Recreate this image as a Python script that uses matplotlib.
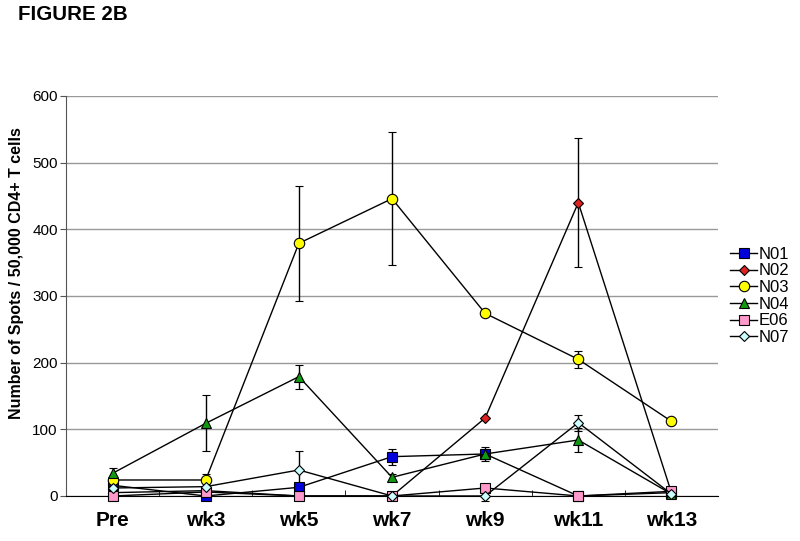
import numpy as np
import matplotlib.pyplot as plt
from matplotlib.ticker import MultipleLocator
from matplotlib.lines import Line2D

plt.rcParams['font.family'] = ['Liberation Sans', 'DejaVu Sans']

weeks = ["Pre", "wk3", "wk5", "wk7", "wk9", "wk11", "wk13"]

n01 = [16, 0, 13, 59, 63, 0, 5]
n01_err = [0, 0, 0, 12, 10, 0, 0]
n02 = [5, 8, 0, 0, 117, 440, 5]
n02_err = [0, 0, 0, 0, 0, 97, 0]
n03 = [24, 24, 379, 446, 274, 205, 112]
n03_err = [0, 9, 86, 100, 0, 13, 0]
n04 = [34, 109, 179, 28, 63, 84, 3]
n04_err = [8, 42, 18, 5, 0, 18, 0]
e06 = [0, 6, 0, 0, 12, 0, 7]
e06_err = [0, 0, 0, 0, 4, 0, 0]
n07 = [12, 14, 39, 0, 0, 110, 3]
n07_err = [0, 0, 28, 0, 8, 12, 0]

series = [
    ("N01", n01, n01_err, "s", "#0000dd", 7),
    ("N02", n02, n02_err, "D", "#dd2222", 5),
    ("N03", n03, n03_err, "o", "#ffff00", 7.5),
    ("N04", n04, n04_err, "^", "#119911", 7),
    ("E06", e06, e06_err, "s", "#ff99cc", 7.5),
    ("N07", n07, n07_err, "D", "#ccffff", 5.5),
]

fig = plt.figure(figsize=(8, 5.41), dpi=100)
ax = fig.add_axes([0.0825, 0.0832, 0.815, 0.7394])

x = np.arange(len(weeks))
handles = []
for name, vals, err, mk, col, ms in series:
    ax.errorbar(x, vals, yerr=err, color="black", lw=1, elinewidth=1,
                capsize=3, capthick=1, marker=mk, markersize=ms,
                markerfacecolor=col, markeredgecolor="black",
                markeredgewidth=0.8, clip_on=False, zorder=3)
    handles.append(Line2D([], [], color="black", lw=1, marker=mk,
                          markersize=ms, markerfacecolor=col,
                          markeredgecolor="black", markeredgewidth=0.8,
                          label=name))

ax.set_xlim(-0.5, len(weeks) - 0.5)
ax.set_ylim(0, 600)
ax.yaxis.set_major_locator(MultipleLocator(100))
ax.grid(axis="y", color="#999999", lw=1)
ax.set_axisbelow(True)

ax.set_xticks(x)
ax.set_xticklabels(weeks, fontsize=15, fontweight="bold")
ax.set_xticks(np.arange(0.5, len(weeks) - 0.5, 1), minor=True)
ax.tick_params(axis="x", which="major", length=0, pad=11)
ax.tick_params(axis="x", which="minor", direction="in", length=4, color="black")
ax.tick_params(axis="y", labelsize=11, length=4, color="#555555", pad=2)

for s in ["top", "right"]:
    ax.spines[s].set_visible(False)
ax.spines["left"].set_color("#555555")
ax.spines["bottom"].set_color("black")

ax.set_ylabel("Number of Spots / 50,000 CD4+ T cells", fontsize=11.5,
              fontweight="bold")
ax.yaxis.set_label_coords(-0.064, 0.5575)

fig.text(0.023, 0.974, "FIGURE 2B", fontsize=14.8, fontweight="bold",
         va="center", ha="left")

fig.legend(handles=handles, loc="center left", bbox_to_anchor=(0.913, 0.453),
           frameon=False, fontsize=12, handlelength=1.6, handletextpad=0.1,
           labelspacing=0.1, borderaxespad=0, borderpad=0)

fig.savefig("out.png", dpi=100)
